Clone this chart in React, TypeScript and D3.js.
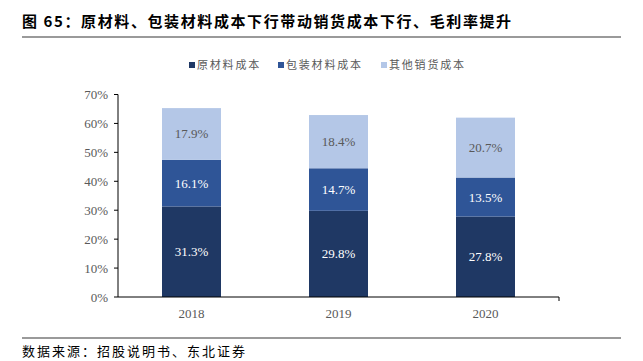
import React from "react";
import * as d3 from "d3";

const categories = ["2018", "2019", "2020"];
const seriesNames = ["原材料成本", "包装材料成本", "其他销货成本"];
const rawMaterial = [31.3, 29.8, 27.8];
const packaging = [16.1, 14.7, 13.5];
const otherCost = [17.9, 18.4, 20.7];
const yTicks = [0, 10, 20, 30, 40, 50, 60, 70];
const colors = ["#1F3864", "#2F5597", "#B4C7E7"];
const labelColors = ["#ffffff", "#ffffff", "#595959"];
const title = "图 65：原材料、包装材料成本下行带动销货成本下行、毛利率提升";
const source = "数据来源：招股说明书、东北证券";

const W = 643;
const H = 361;
const left = 118;
const right = 559;
const top = 94.5;
const bottom = 297;

export default function App() {
  const x = d3.scaleBand<string>().domain(categories).range([left, right]).paddingInner(0.4).paddingOuter(0.2);
  const y = d3.scaleLinear().domain([0, 70]).range([bottom, top]);
  const series = [rawMaterial, packaging, otherCost];
  const stackData = categories.map((c, i) => ({ c, v0: rawMaterial[i], v1: packaging[i], v2: otherCost[i] }));
  const stacked = d3.stack<any>().keys(["v0", "v1", "v2"])(stackData);
  const bw = 59;
  const serif = "'Liberation Serif', 'Times New Roman', serif";
  const cjk = "'Noto Sans CJK SC', sans-serif";
  const legendX = [189, 278, 381];

  return (
    <svg
      width={W}
      height={H}
      style={{ display: "block", background: "#fff", position: "absolute", left: 0, top: 0 }}
    >
      <text x={22} y={27} fontFamily={cjk} fontWeight="bold" fontSize={15} letterSpacing={1.6} fill="#000">
        {title}
      </text>
      <line x1={22} x2={621} y1={37} y2={37} stroke="#9a9a9a" strokeWidth={2} />

      {seriesNames.map((n, i) => (
        <g key={n}>
          <rect x={legendX[i]} y={62} width={6} height={6} fill={colors[i]} />
          <text x={legendX[i] + 8} y={69} fontFamily={cjk} fontSize={11} letterSpacing={1.8} fill="#595959">
            {n}
          </text>
        </g>
      ))}

      {stacked.map((layer, si) =>
        layer.map((d, i) => {
          const cx = (x(categories[i]) as number) + x.bandwidth() / 2;
          const y0 = y(d[0]);
          const y1 = y(d[1]);
          return (
            <g key={si + "-" + i}>
              <rect x={cx - bw / 2} y={y1} width={bw} height={y0 - y1} fill={colors[si]} />
              <text
                x={cx}
                y={(y0 + y1) / 2 + 4.5}
                textAnchor="middle"
                fontFamily={serif}
                fontSize={13}
                fill={labelColors[si]}
              >
                {series[si][i].toFixed(1)}%
              </text>
            </g>
          );
        })
      )}

      <line x1={left} x2={left} y1={top} y2={bottom} stroke="#000" strokeWidth={1} />
      <line x1={left} x2={right} y1={bottom} y2={bottom} stroke="#000" strokeWidth={1} />
      <line x1={right} x2={right} y1={bottom} y2={bottom + 4} stroke="#000" strokeWidth={1} />
      {yTicks.map((t) => (
        <g key={t}>
          <line x1={left - 4} x2={left} y1={y(t)} y2={y(t)} stroke="#000" strokeWidth={1} />
          <text x={left - 10} y={y(t) + 4.5} textAnchor="end" fontFamily={serif} fontSize={13} fill="#595959">
            {t}%
          </text>
        </g>
      ))}
      {categories.map((c) => (
        <text
          key={c}
          x={(x(c) as number) + x.bandwidth() / 2}
          y={318}
          textAnchor="middle"
          fontFamily={serif}
          fontSize={13}
          fill="#595959"
        >
          {c}
        </text>
      ))}

      <line x1={22} x2={621} y1={338} y2={338} stroke="#9a9a9a" strokeWidth={2} />
      <text x={22} y={356} fontFamily={cjk} fontSize={13} letterSpacing={2} fill="#000">
        {source}
      </text>
    </svg>
  );
}
